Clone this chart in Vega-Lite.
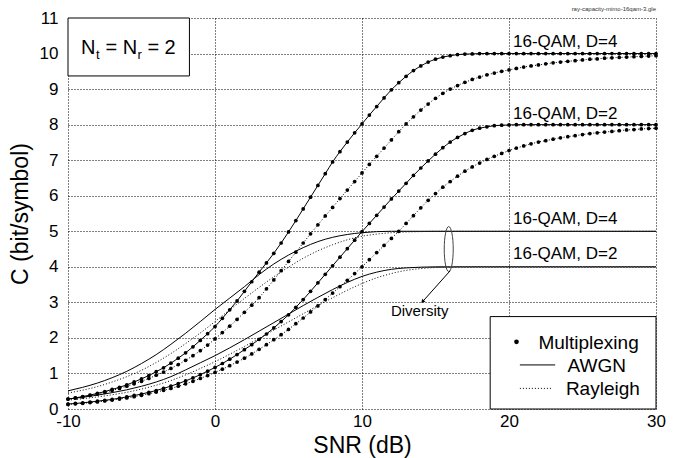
{
  "$schema": "https://vega.github.io/schema/vega-lite/v6.json",
  "width": 588,
  "height": 391,
  "autosize": {"type": "none"},
  "padding": {"left": 68, "top": 18, "right": 27, "bottom": 49},
  "background": "white",
  "config": {
    "view": {"stroke": null},
    "font": "Liberation Sans",
    "axis": {
      "domain": false, "ticks": false, "grid": true,
      "gridColor": "black", "gridDash": [1, 2], "gridOpacity": 1, "gridWidth": 1,
      "labelFont": "Liberation Sans", "labelFontSize": 17, "labelColor": "black",
      "labelFlush": false, "labelOverlap": false, "labelBound": false,
      "titleFont": "Liberation Sans", "titleFontSize": 23, "titleFontWeight": "normal", "titleColor": "black"
    },
    "axisY": {"labelOverlap": false},
    "axisQuantitative": {"labelOverlap": false}
  },
  "datasets": {
    "mux": [
      {"snr": -10, "A": 0.28, "Ar": 0.28, "B": 0.14, "Br": 0.13},
      {"snr": -9.5, "A": 0.31, "Ar": 0.31, "B": 0.155, "Br": 0.145},
      {"snr": -9, "A": 0.35, "Ar": 0.34, "B": 0.175, "Br": 0.16},
      {"snr": -8.5, "A": 0.39, "Ar": 0.38, "B": 0.195, "Br": 0.18},
      {"snr": -8, "A": 0.44, "Ar": 0.42, "B": 0.22, "Br": 0.2},
      {"snr": -7.5, "A": 0.49, "Ar": 0.47, "B": 0.245, "Br": 0.225},
      {"snr": -7, "A": 0.55, "Ar": 0.52, "B": 0.27, "Br": 0.25},
      {"snr": -6.5, "A": 0.61, "Ar": 0.58, "B": 0.305, "Br": 0.28},
      {"snr": -6, "A": 0.68, "Ar": 0.64, "B": 0.34, "Br": 0.31},
      {"snr": -5.5, "A": 0.76, "Ar": 0.71, "B": 0.38, "Br": 0.345},
      {"snr": -5, "A": 0.85, "Ar": 0.78, "B": 0.42, "Br": 0.385},
      {"snr": -4.5, "A": 0.94, "Ar": 0.86, "B": 0.47, "Br": 0.43},
      {"snr": -4, "A": 1.05, "Ar": 0.95, "B": 0.52, "Br": 0.475},
      {"snr": -3.5, "A": 1.16, "Ar": 1.04, "B": 0.58, "Br": 0.525},
      {"snr": -3, "A": 1.29, "Ar": 1.14, "B": 0.645, "Br": 0.58},
      {"snr": -2.5, "A": 1.43, "Ar": 1.25, "B": 0.715, "Br": 0.64},
      {"snr": -2, "A": 1.58, "Ar": 1.37, "B": 0.79, "Br": 0.71},
      {"snr": -1.5, "A": 1.75, "Ar": 1.5, "B": 0.875, "Br": 0.78},
      {"snr": -1, "A": 1.93, "Ar": 1.64, "B": 0.965, "Br": 0.86},
      {"snr": -0.5, "A": 2.12, "Ar": 1.8, "B": 1.065, "Br": 0.94},
      {"snr": 0, "A": 2.32, "Ar": 1.97, "B": 1.17, "Br": 1.03},
      {"snr": 0.5, "A": 2.55, "Ar": 2.15, "B": 1.28, "Br": 1.12},
      {"snr": 1, "A": 2.79, "Ar": 2.33, "B": 1.4, "Br": 1.22},
      {"snr": 1.5, "A": 3.04, "Ar": 2.52, "B": 1.53, "Br": 1.32},
      {"snr": 2, "A": 3.31, "Ar": 2.72, "B": 1.67, "Br": 1.43},
      {"snr": 2.5, "A": 3.58, "Ar": 2.92, "B": 1.81, "Br": 1.55},
      {"snr": 3, "A": 3.85, "Ar": 3.13, "B": 1.96, "Br": 1.68},
      {"snr": 3.5, "A": 4.11, "Ar": 3.38, "B": 2.11, "Br": 1.81},
      {"snr": 4, "A": 4.38, "Ar": 3.63, "B": 2.28, "Br": 1.95},
      {"snr": 4.5, "A": 4.67, "Ar": 3.89, "B": 2.46, "Br": 2.09},
      {"snr": 5, "A": 4.98, "Ar": 4.15, "B": 2.65, "Br": 2.24},
      {"snr": 5.5, "A": 5.3, "Ar": 4.41, "B": 2.86, "Br": 2.4},
      {"snr": 6, "A": 5.63, "Ar": 4.67, "B": 3.08, "Br": 2.56},
      {"snr": 6.5, "A": 5.96, "Ar": 4.93, "B": 3.31, "Br": 2.73},
      {"snr": 7, "A": 6.29, "Ar": 5.18, "B": 3.55, "Br": 2.9},
      {"snr": 7.5, "A": 6.62, "Ar": 5.43, "B": 3.79, "Br": 3.08},
      {"snr": 8, "A": 6.95, "Ar": 5.67, "B": 4.03, "Br": 3.26},
      {"snr": 8.5, "A": 7.24, "Ar": 5.92, "B": 4.27, "Br": 3.44},
      {"snr": 9, "A": 7.51, "Ar": 6.16, "B": 4.51, "Br": 3.62},
      {"snr": 9.5, "A": 7.77, "Ar": 6.4, "B": 4.75, "Br": 3.81},
      {"snr": 10, "A": 8.02, "Ar": 6.64, "B": 4.99, "Br": 4.0},
      {"snr": 10.5, "A": 8.27, "Ar": 6.88, "B": 5.22, "Br": 4.2},
      {"snr": 11, "A": 8.51, "Ar": 7.11, "B": 5.45, "Br": 4.4},
      {"snr": 11.5, "A": 8.75, "Ar": 7.34, "B": 5.68, "Br": 4.6},
      {"snr": 12, "A": 8.98, "Ar": 7.57, "B": 5.91, "Br": 4.8},
      {"snr": 12.5, "A": 9.18, "Ar": 7.8, "B": 6.13, "Br": 5.0},
      {"snr": 13, "A": 9.36, "Ar": 8.02, "B": 6.35, "Br": 5.22},
      {"snr": 13.5, "A": 9.52, "Ar": 8.22, "B": 6.57, "Br": 5.44},
      {"snr": 14, "A": 9.65, "Ar": 8.41, "B": 6.78, "Br": 5.66},
      {"snr": 14.5, "A": 9.76, "Ar": 8.58, "B": 6.98, "Br": 5.87},
      {"snr": 15, "A": 9.84, "Ar": 8.74, "B": 7.17, "Br": 6.06},
      {"snr": 15.5, "A": 9.9, "Ar": 8.88, "B": 7.35, "Br": 6.24},
      {"snr": 16, "A": 9.94, "Ar": 9.0, "B": 7.51, "Br": 6.4},
      {"snr": 16.5, "A": 9.97, "Ar": 9.1, "B": 7.64, "Br": 6.55},
      {"snr": 17, "A": 9.985, "Ar": 9.19, "B": 7.75, "Br": 6.69},
      {"snr": 17.5, "A": 9.99, "Ar": 9.27, "B": 7.84, "Br": 6.81},
      {"snr": 18, "A": 10, "Ar": 9.34, "B": 7.9, "Br": 6.92},
      {"snr": 18.5, "A": 10, "Ar": 9.4, "B": 7.94, "Br": 7.02},
      {"snr": 19, "A": 10, "Ar": 9.45, "B": 7.97, "Br": 7.11},
      {"snr": 19.5, "A": 10, "Ar": 9.5, "B": 7.985, "Br": 7.19},
      {"snr": 20, "A": 10, "Ar": 9.54, "B": 7.99, "Br": 7.27},
      {"snr": 20.5, "A": 10, "Ar": 9.58, "B": 8, "Br": 7.34},
      {"snr": 21, "A": 10, "Ar": 9.62, "B": 8, "Br": 7.4},
      {"snr": 21.5, "A": 10, "Ar": 9.65, "B": 8, "Br": 7.46},
      {"snr": 22, "A": 10, "Ar": 9.68, "B": 8, "Br": 7.51},
      {"snr": 22.5, "A": 10, "Ar": 9.71, "B": 8, "Br": 7.55},
      {"snr": 23, "A": 10, "Ar": 9.74, "B": 8, "Br": 7.59},
      {"snr": 23.5, "A": 10, "Ar": 9.76, "B": 8, "Br": 7.63},
      {"snr": 24, "A": 10, "Ar": 9.78, "B": 8, "Br": 7.66},
      {"snr": 24.5, "A": 10, "Ar": 9.8, "B": 8, "Br": 7.69},
      {"snr": 25, "A": 10, "Ar": 9.82, "B": 8, "Br": 7.72},
      {"snr": 25.5, "A": 10, "Ar": 9.84, "B": 8, "Br": 7.75},
      {"snr": 26, "A": 10, "Ar": 9.85, "B": 8, "Br": 7.77},
      {"snr": 26.5, "A": 10, "Ar": 9.87, "B": 8, "Br": 7.79},
      {"snr": 27, "A": 10, "Ar": 9.88, "B": 8, "Br": 7.81},
      {"snr": 27.5, "A": 10, "Ar": 9.89, "B": 8, "Br": 7.83},
      {"snr": 28, "A": 10, "Ar": 9.9, "B": 8, "Br": 7.85},
      {"snr": 28.5, "A": 10, "Ar": 9.91, "B": 8, "Br": 7.86},
      {"snr": 29, "A": 10, "Ar": 9.92, "B": 8, "Br": 7.88},
      {"snr": 29.5, "A": 10, "Ar": 9.93, "B": 8, "Br": 7.89},
      {"snr": 30, "A": 10, "Ar": 9.94, "B": 8, "Br": 7.9}
    ],
    "div": [
      {"snr": -10, "D4A": 0.51, "D4R": 0.45, "D2A": 0.28, "D2R": 0.25},
      {"snr": -9, "D4A": 0.61, "D4R": 0.53, "D2A": 0.33, "D2R": 0.29},
      {"snr": -8, "D4A": 0.73, "D4R": 0.63, "D2A": 0.39, "D2R": 0.34},
      {"snr": -7, "D4A": 0.88, "D4R": 0.76, "D2A": 0.46, "D2R": 0.4},
      {"snr": -6, "D4A": 1.06, "D4R": 0.91, "D2A": 0.54, "D2R": 0.47},
      {"snr": -5, "D4A": 1.28, "D4R": 1.09, "D2A": 0.64, "D2R": 0.56},
      {"snr": -4, "D4A": 1.53, "D4R": 1.31, "D2A": 0.76, "D2R": 0.67},
      {"snr": -3, "D4A": 1.82, "D4R": 1.56, "D2A": 0.91, "D2R": 0.8},
      {"snr": -2, "D4A": 2.13, "D4R": 1.84, "D2A": 1.1, "D2R": 0.96},
      {"snr": -1, "D4A": 2.46, "D4R": 2.14, "D2A": 1.3, "D2R": 1.14},
      {"snr": 0, "D4A": 2.8, "D4R": 2.46, "D2A": 1.5, "D2R": 1.33},
      {"snr": 1, "D4A": 3.12, "D4R": 2.79, "D2A": 1.72, "D2R": 1.54},
      {"snr": 2, "D4A": 3.44, "D4R": 3.11, "D2A": 1.95, "D2R": 1.76},
      {"snr": 3, "D4A": 3.78, "D4R": 3.42, "D2A": 2.19, "D2R": 1.99},
      {"snr": 4, "D4A": 4.08, "D4R": 3.72, "D2A": 2.43, "D2R": 2.22},
      {"snr": 5, "D4A": 4.33, "D4R": 3.99, "D2A": 2.67, "D2R": 2.45},
      {"snr": 6, "D4A": 4.54, "D4R": 4.24, "D2A": 2.91, "D2R": 2.68},
      {"snr": 7, "D4A": 4.71, "D4R": 4.45, "D2A": 3.14, "D2R": 2.91},
      {"snr": 8, "D4A": 4.83, "D4R": 4.62, "D2A": 3.36, "D2R": 3.13},
      {"snr": 9, "D4A": 4.91, "D4R": 4.76, "D2A": 3.56, "D2R": 3.34},
      {"snr": 10, "D4A": 4.96, "D4R": 4.86, "D2A": 3.73, "D2R": 3.53},
      {"snr": 11, "D4A": 4.99, "D4R": 4.92, "D2A": 3.85, "D2R": 3.69},
      {"snr": 12, "D4A": 5, "D4R": 4.96, "D2A": 3.93, "D2R": 3.81},
      {"snr": 13, "D4A": 5, "D4R": 4.98, "D2A": 3.97, "D2R": 3.9},
      {"snr": 14, "D4A": 5, "D4R": 4.99, "D2A": 3.99, "D2R": 3.95},
      {"snr": 15, "D4A": 5, "D4R": 5, "D2A": 4, "D2R": 3.98},
      {"snr": 16, "D4A": 5, "D4R": 5, "D2A": 4, "D2R": 3.99},
      {"snr": 17, "D4A": 5, "D4R": 5, "D2A": 4, "D2R": 4},
      {"snr": 20, "D4A": 5, "D4R": 5, "D2A": 4, "D2R": 4},
      {"snr": 25, "D4A": 5, "D4R": 5, "D2A": 4, "D2R": 4},
      {"snr": 30, "D4A": 5, "D4R": 5, "D2A": 4, "D2R": 4}
    ],
    "qam": [
      {"snr": 20.27, "C": 10.32, "label": "16-QAM, D=4"},
      {"snr": 20.27, "C": 8.3, "label": "16-QAM, D=2"},
      {"snr": 20.27, "C": 5.34, "label": "16-QAM, D=4"},
      {"snr": 20.27, "C": 4.36, "label": "16-QAM, D=2"}
    ],
    "boxes": [
      {"snr": -10, "snr2": -1.74, "C": 9.37, "C2": 11},
      {"snr": 18.72, "snr2": 30, "C": 0, "C2": 2.6}
    ],
    "ntext": [
      {"snr": -9.116, "C": 10.0, "label": "N"},
      {"snr": -7.45, "C": 10.0, "label": "= N"},
      {"snr": -4.6, "C": 10.0, "label": "= 2"}
    ],
    "nsub": [
      {"snr": -8.1, "C": 9.84, "label": "t"},
      {"snr": -5.28, "C": 9.84, "label": "r"}
    ],
    "legdot": [{"snr": 20.51, "C": 1.89}],
    "legline": [{"snr": 20.74, "snr2": 23.14, "C": 1.24}],
    "legdash": [{"snr": 20.74, "snr2": 22.85, "C": 0.58}],
    "legtext": [
      {"snr": 22.0, "C": 1.86, "label": "Multiplexing"},
      {"snr": 23.98, "C": 1.21, "label": "AWGN"},
      {"snr": 23.87, "C": 0.55, "label": "Rayleigh"}
    ],
    "ellipse": [{"snr": 15.9, "C": 4.5}],
    "pointer": [{"snr": 16.0, "snr2": 14.12, "C": 3.89, "C2": 3.02}],
    "arrowtip": [{"snr": 14.12, "C": 3.02}],
    "divtext": [{"snr": 11.97, "C": 2.76, "label": "Diversity"}],
    "fname": [{"snr": 30, "C": 11, "label": "ray-capacity-mimo-16qam-3.gle"}]
  },
  "layer": [
    {
      "data": {"name": "mux"},
      "transform": [{"fold": ["A", "B"], "as": ["curve", "C"]}],
      "mark": {"type": "line", "color": "black", "strokeWidth": 1, "interpolate": "monotone"},
      "encoding": {
        "x": {"field": "snr", "type": "quantitative", "scale": {"domain": [-10, 30], "nice": false},
              "axis": {"values": [-10, 0, 10, 20, 30], "labelExpr": "datum.value", "labelOverlap": false, "labelFlush": false,
                       "title": "SNR (dB)", "labelPadding": 4, "titlePadding": 5}},
        "y": {"field": "C", "type": "quantitative", "scale": {"domain": [0, 11], "nice": false},
              "axis": {"values": [0, 1, 2, 3, 4, 5, 6, 7, 8, 9, 10, 11], "tickCount": 12, "labelExpr": "datum.value", "labelOverlap": false, "labelFlush": false,
                       "title": "C (bit/symbol)", "labelPadding": 10, "titlePadding": 7}},
        "detail": {"field": "curve"}
      }
    },
    {
      "data": {"name": "mux"},
      "transform": [{"fold": ["Ar", "Br"], "as": ["curve", "C"]}],
      "mark": {"type": "line", "color": "black", "strokeWidth": 1, "strokeDash": [1, 2], "interpolate": "monotone"},
      "encoding": {
        "x": {"field": "snr", "type": "quantitative"},
        "y": {"field": "C", "type": "quantitative"},
        "detail": {"field": "curve"}
      }
    },
    {
      "data": {"name": "mux"},
      "transform": [{"fold": ["A", "Ar", "B", "Br"], "as": ["curve", "C"]}],
      "mark": {"type": "point", "shape": "circle", "filled": true, "color": "black", "opacity": 1, "size": 14},
      "encoding": {
        "x": {"field": "snr", "type": "quantitative"},
        "y": {"field": "C", "type": "quantitative"}
      }
    },
    {
      "data": {"name": "div"},
      "transform": [{"fold": ["D4A", "D2A"], "as": ["curve", "C"]}],
      "mark": {"type": "line", "color": "black", "strokeWidth": 1, "interpolate": "monotone"},
      "encoding": {
        "x": {"field": "snr", "type": "quantitative"},
        "y": {"field": "C", "type": "quantitative"},
        "detail": {"field": "curve"}
      }
    },
    {
      "data": {"name": "div"},
      "transform": [{"fold": ["D4R", "D2R"], "as": ["curve", "C"]}],
      "mark": {"type": "line", "color": "black", "strokeWidth": 1, "strokeDash": [1, 2], "interpolate": "monotone"},
      "encoding": {
        "x": {"field": "snr", "type": "quantitative"},
        "y": {"field": "C", "type": "quantitative"},
        "detail": {"field": "curve"}
      }
    },
    {
      "data": {"name": "qam"},
      "mark": {"type": "text", "align": "left", "baseline": "middle", "fontSize": 17, "font": "Liberation Sans", "color": "black"},
      "encoding": {
        "x": {"field": "snr", "type": "quantitative"},
        "y": {"field": "C", "type": "quantitative"},
        "text": {"field": "label"}
      }
    },
    {
      "data": {"name": "boxes"},
      "mark": {"type": "rect", "fill": "white", "stroke": "black", "strokeWidth": 1},
      "encoding": {
        "x": {"field": "snr", "type": "quantitative"},
        "x2": {"field": "snr2"},
        "y": {"field": "C", "type": "quantitative"},
        "y2": {"field": "C2"}
      }
    },
    {
      "data": {"name": "ntext"},
      "mark": {"type": "text", "align": "left", "baseline": "alphabetic", "fontSize": 20, "font": "Liberation Sans", "color": "black"},
      "encoding": {
        "x": {"field": "snr", "type": "quantitative"},
        "y": {"field": "C", "type": "quantitative"},
        "text": {"field": "label"}
      }
    },
    {
      "data": {"name": "nsub"},
      "mark": {"type": "text", "align": "left", "baseline": "alphabetic", "fontSize": 13, "font": "Liberation Sans", "color": "black"},
      "encoding": {
        "x": {"field": "snr", "type": "quantitative"},
        "y": {"field": "C", "type": "quantitative"},
        "text": {"field": "label"}
      }
    },
    {
      "data": {"name": "legdot"},
      "mark": {"type": "point", "shape": "circle", "filled": true, "color": "black", "opacity": 1, "size": 22},
      "encoding": {
        "x": {"field": "snr", "type": "quantitative"},
        "y": {"field": "C", "type": "quantitative"}
      }
    },
    {
      "data": {"name": "legline"},
      "mark": {"type": "rule", "color": "black", "strokeWidth": 1},
      "encoding": {
        "x": {"field": "snr", "type": "quantitative"},
        "x2": {"field": "snr2"},
        "y": {"field": "C", "type": "quantitative"}
      }
    },
    {
      "data": {"name": "legdash"},
      "mark": {"type": "rule", "color": "black", "strokeWidth": 1, "strokeDash": [1, 2]},
      "encoding": {
        "x": {"field": "snr", "type": "quantitative"},
        "x2": {"field": "snr2"},
        "y": {"field": "C", "type": "quantitative"}
      }
    },
    {
      "data": {"name": "legtext"},
      "mark": {"type": "text", "align": "left", "baseline": "middle", "fontSize": 19, "font": "Liberation Sans", "color": "black"},
      "encoding": {
        "x": {"field": "snr", "type": "quantitative"},
        "y": {"field": "C", "type": "quantitative"},
        "text": {"field": "label"}
      }
    },
    {
      "data": {"name": "ellipse"},
      "mark": {"type": "point", "filled": false, "stroke": "#444", "strokeWidth": 1, "opacity": 1, "size": 2025,
               "shape": "M0,-1 C0.11,-1 0.2,-0.552 0.2,0 C0.2,0.552 0.11,1 0,1 C-0.11,1 -0.2,0.552 -0.2,0 C-0.2,-0.552 -0.11,-1 0,-1 Z"},
      "encoding": {
        "x": {"field": "snr", "type": "quantitative"},
        "y": {"field": "C", "type": "quantitative"}
      }
    },
    {
      "data": {"name": "pointer"},
      "mark": {"type": "rule", "color": "black", "strokeWidth": 1},
      "encoding": {
        "x": {"field": "snr", "type": "quantitative"},
        "x2": {"field": "snr2"},
        "y": {"field": "C", "type": "quantitative"},
        "y2": {"field": "C2"}
      }
    },
    {
      "data": {"name": "arrowtip"},
      "mark": {"type": "point", "shape": "triangle-up", "filled": true, "color": "black", "opacity": 1, "size": 18, "angle": 222},
      "encoding": {
        "x": {"field": "snr", "type": "quantitative"},
        "y": {"field": "C", "type": "quantitative"}
      }
    },
    {
      "data": {"name": "divtext"},
      "mark": {"type": "text", "align": "left", "baseline": "middle", "fontSize": 15, "font": "Liberation Sans", "color": "black"},
      "encoding": {
        "x": {"field": "snr", "type": "quantitative"},
        "y": {"field": "C", "type": "quantitative"},
        "text": {"field": "label"}
      }
    },
    {
      "data": {"name": "fname"},
      "mark": {"type": "text", "align": "right", "baseline": "bottom", "dy": -6, "fontSize": 6, "font": "Liberation Sans", "color": "#333"},
      "encoding": {
        "x": {"field": "snr", "type": "quantitative"},
        "y": {"field": "C", "type": "quantitative"},
        "text": {"field": "label"}
      }
    }
  ]
}
